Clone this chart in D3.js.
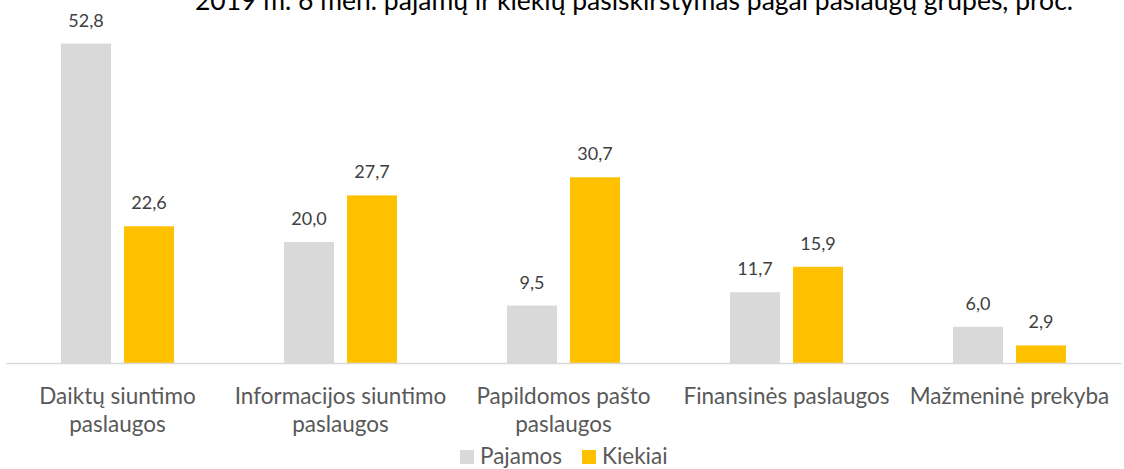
<!DOCTYPE html>
<html>
<head>
<meta charset="utf-8">
<script src="https://cdn.jsdelivr.net/npm/d3@7"></script>
<style>
  body { margin: 0; background: #fff; }
  svg { display: block; font-family: Lato, "Open Sans", sans-serif; }
</style>
</head>
<body>
<div id="chart"></div>
<script>
const title = "2019 m. 6 mėn. pajamų ir kiekių pasiskirstymas pagal paslaugų grupes, proc.";
const categories = [
  "Daiktų siuntimo\npaslaugos",
  "Informacijos siuntimo\npaslaugos",
  "Papildomos pašto\npaslaugos",
  "Finansinės paslaugos",
  "Mažmeninė prekyba"
];
const seriesNames = ["Pajamos", "Kiekiai"];
const pajamos = [52.8, 20.0, 9.5, 11.7, 6.0];
const kiekiai = [22.6, 27.7, 30.7, 15.9, 2.9];
const colors = ["#d9d9d9", "#ffc000"];

const w = 1124;
const h = 469;
const left = 6, right = 1121, baseY = 363;

const svg = d3.select("#chart").append("svg")
  .attr("width", w)
  .attr("height", h);

const xScale = d3.scaleBand()
  .domain(categories)
  .range([left, right])
  .paddingInner(0)
  .paddingOuter(0);

const xInner = d3.scaleBand()
  .domain(seriesNames)
  .range([0, xScale.bandwidth()])
  .paddingInner(0.206)
  .paddingOuter(0.873);

const yScale = d3.scaleLinear()
  .domain([0, 60])
  .range([baseY, 0]);

// title (cut at the top edge, as in the original)
svg.append("text")
  .attr("x", 195)
  .attr("y", 10)
  .attr("font-size", 26.5)
  .attr("fill", "#000")
  .text(title);

const rows = categories.map((c, i) => ({cat: c, values: [pajamos[i], kiekiai[i]]}));

const groups = svg.selectAll("g.cat")
  .data(rows)
  .enter()
  .append("g")
  .attr("class", "cat")
  .attr("transform", d => "translate(" + xScale(d.cat) + ",0)");

groups.selectAll("rect")
  .data(d => d.values.map((v, j) => ({name: seriesNames[j], value: v, j: j})))
  .enter()
  .append("rect")
  .attr("x", d => xInner(d.name))
  .attr("y", d => yScale(d.value))
  .attr("width", xInner.bandwidth())
  .attr("height", d => baseY - yScale(d.value))
  .attr("fill", d => colors[d.j]);

groups.selectAll("text.val")
  .data(d => d.values.map((v, j) => ({name: seriesNames[j], value: v})))
  .enter()
  .append("text")
  .attr("class", "val")
  .attr("x", d => xInner(d.name) + xInner.bandwidth() / 2)
  .attr("y", d => yScale(d.value) - 17)
  .attr("text-anchor", "middle")
  .attr("font-size", 18)
  .attr("fill", "#404040")
  .text(d => d.value.toFixed(1).replace(".", ","));

// x axis
const xAxis = d3.axisBottom(xScale).tickSize(0).tickPadding(0);
const gx = svg.append("g")
  .attr("transform", "translate(0," + baseY + ")")
  .call(xAxis);
gx.select(".domain").attr("stroke", "#d9d9d9").attr("stroke-width", 1.5);
gx.selectAll(".tick text")
  .attr("font-size", 22.5)
  .attr("font-family", "Lato, 'Open Sans', sans-serif")
  .attr("fill", "#595959")
  .each(function(d) {
    const el = d3.select(this);
    const lines = d.split("\n");
    el.text(null).attr("y", 0).attr("dy", null);
    lines.forEach((ln, k) => {
      el.append("tspan")
        .attr("x", 0)
        .attr("y", 41 + k * 28)
        .text(ln);
    });
  });

// legend
const legendX = [460, 582];
const legend = svg.selectAll("g.leg")
  .data(seriesNames)
  .enter()
  .append("g")
  .attr("class", "leg")
  .attr("transform", (d, i) => "translate(" + legendX[i] + ",450)");
legend.append("rect")
  .attr("width", 14)
  .attr("height", 14)
  .attr("fill", (d, i) => colors[i]);
legend.append("text")
  .attr("x", 20)
  .attr("y", 14)
  .attr("font-size", 22.5)
  .attr("fill", "#595959")
  .text(d => d);
</script>
</body>
</html>
